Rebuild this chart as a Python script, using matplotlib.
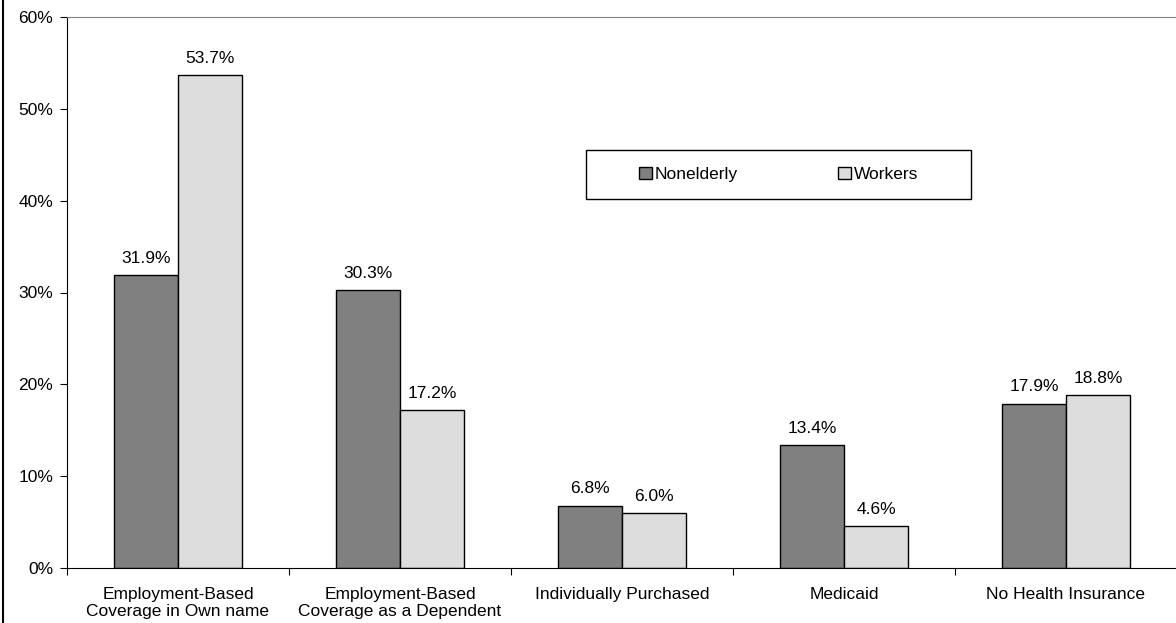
import matplotlib
matplotlib.use("Agg")
import matplotlib.pyplot as plt
import numpy as np
from matplotlib.patches import Patch, Rectangle
from matplotlib.lines import Line2D

plt.rcParams['font.family'] = ['Liberation Sans', 'DejaVu Sans']

categories = ["Employment-Based\nCoverage in Own name",
              "Employment-Based\nCoverage as a Dependent",
              "Individually Purchased",
              "Medicaid",
              "No Health Insurance"]
nonelderly = [31.9, 30.3, 6.8, 13.4, 17.9]
workers = [53.7, 17.2, 6.0, 4.6, 18.8]
series_names = ["Nonelderly", "Workers"]
ytick_vals = [0, 10, 20, 30, 40, 50, 60]

dark = "#808080"
light = "#DDDDDD"
fs = 12.5

fig = plt.figure(figsize=(11.76, 6.23), dpi=100)
ax = fig.add_axes([67/1176, 1 - 568/623, 1110/1176, 551/623])

x = np.arange(len(categories))
w = 0.288
ax.bar(x - w/2, nonelderly, w, color=dark, edgecolor="black", linewidth=1)
ax.bar(x + w/2, workers, w, color=light, edgecolor="black", linewidth=1)

for xs, vals in ((x - w/2, nonelderly), (x + w/2, workers)):
    for xi, v in zip(xs, vals):
        ax.annotate(f"{v:.1f}%", (xi, v), xytext=(0, 12), textcoords="offset points",
                    ha="center", va="center", fontsize=fs)

ax.set_xlim(-0.5, len(categories) - 0.5)
ax.set_ylim(0, 60)
ax.set_yticks(ytick_vals)
ax.set_yticklabels([f"{v}%" for v in ytick_vals], fontsize=fs)
ax.set_xticks(np.arange(len(categories) + 1) - 0.5)
ax.set_xticklabels([])
ax.set_xticks(x, minor=True)
ax.set_xticklabels(categories, minor=True, fontsize=fs, linespacing=1.17)
ax.tick_params(axis="x", which="minor", length=0, pad=14)
ax.tick_params(axis="x", which="major", length=5, direction="out")
ax.tick_params(axis="y", length=5, direction="out", pad=5)

ax.spines["right"].set_visible(False)
ax.spines["top"].set_color("#808080")
ax.spines["left"].set_color("black")
ax.spines["bottom"].set_color("black")

# legend frame box and centred entries inside it
box = (0.468, 0.670, 0.346, 0.089)
ax.add_patch(Rectangle(box[:2], box[2], box[3], transform=ax.transAxes,
                       facecolor="white", edgecolor="black", linewidth=1, zorder=4))
handles = [Patch(facecolor=dark, edgecolor="black", label=series_names[0]),
           Patch(facecolor=light, edgecolor="black", label=series_names[1])]
leg = ax.legend(handles=handles, loc="center", ncol=2,
                bbox_to_anchor=(box[0] + box[2]/2, box[1] + box[3]/2),
                fontsize=fs, frameon=False,
                handlelength=0.75, handleheight=0.75, handletextpad=0.15,
                borderaxespad=0, borderpad=0, columnspacing=5.8)
leg.set_zorder(5)

fig.add_artist(Line2D([2.5/1176, 2.5/1176], [0, 1], color="black", linewidth=1.5,
                      transform=fig.transFigure))

fig.savefig("out.png", dpi=100, facecolor="white")
